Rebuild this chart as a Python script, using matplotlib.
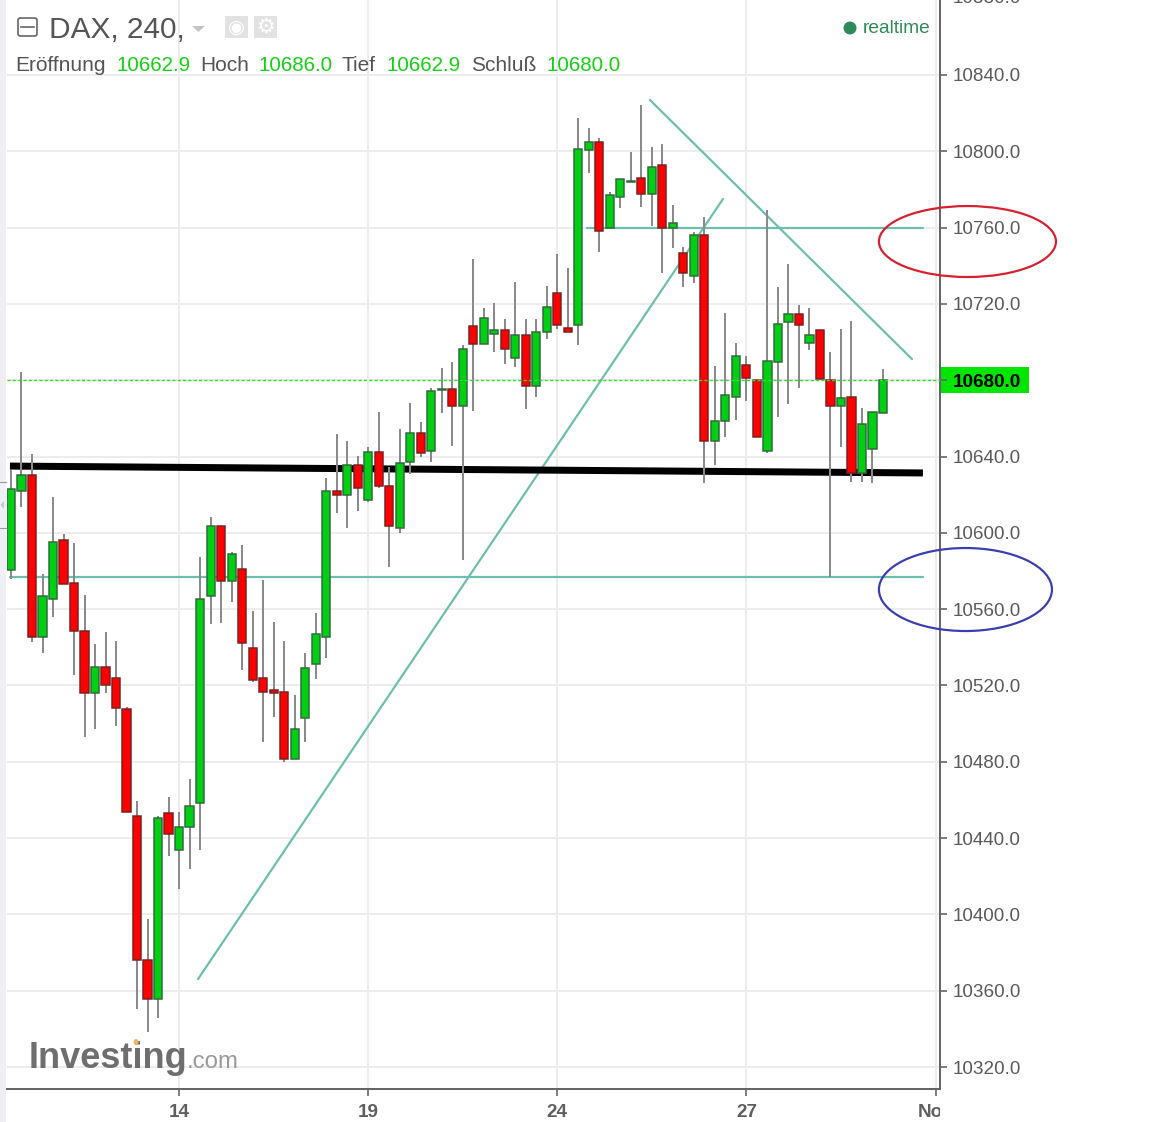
import matplotlib
matplotlib.use("Agg")
import matplotlib.pyplot as plt
from matplotlib.patches import Ellipse, Rectangle, FancyBboxPatch, Polygon
from matplotlib.transforms import Bbox

# ---- data (prices) ----
highs = [10632.9,10684.3,10641.3,10578.4,10618.8,10599.4,10594.7,10567.4,10541.7,10548.0,10543.3,10508.7,
         10459.4,10397.6,10451.6,10461.5,10453.6,10470.9,10587.3,10608.3,10603.6,10589.9,10593.6,10559.0,
         10575.3,10553.2,10543.3,10515.0,10537.0,10558.0,10628.7,10651.8,10648.1,10640.3,10645.0,10663.3,
         10634.5,10654.4,10668.0,10658.1,10675.9,10686.4,10689.5,10698.5,10743.5,10717.8,10720.5,10712.1,
         10731.5,10712.1,10712.1,10729.4,10746.2,10738.8,10817.4,10812.2,10807.0,10778.7,10785.5,10799.6,
         10824.3,10802.2,10803.8,10771.8,10749.8,10757.7,10765.5,10687.4,10715.2,10699.5,10692.7,10680.1,
         10769.2,10728.9,10740.9,10719.4,10717.8,10706.3,10694.8,10706.8,10711.0,10665.4,10663.3,10686.0]
lows = [10575.8,10613.5,10542.8,10537.0,10555.9,10573.2,10525.5,10493.0,10497.2,10516.0,10498.7,10453.6,
        10350.4,10338.3,10345.7,10430.6,10413.3,10423.8,10433.7,10552.2,10552.7,10563.7,10528.1,10521.8,
        10490.3,10503.4,10479.9,10481.4,10490.3,10523.4,10534.4,10610.4,10602.5,10611.4,10616.2,10623.5,
        10582.1,10599.9,10630.8,10639.7,10637.1,10662.8,10645.5,10585.7,10663.9,10699.0,10694.8,10688.5,
        10686.9,10664.9,10671.2,10701.6,10706.8,10705.3,10698.5,10788.6,10747.2,10759.8,10770.3,10783.9,
        10770.8,10760.8,10736.2,10749.3,10728.9,10731.0,10626.1,10635.5,10650.2,10659.1,10669.1,10650.2,
        10641.8,10660.7,10667.5,10675.9,10695.8,10680.6,10576.8,10645.0,10626.6,10626.6,10626.1,10662.9]
opens = [10580.5,10621.9,10630.3,10545.4,10565.3,10596.2,10573.7,10548.5,10516.0,10529.7,10523.9,10507.6,
         10451.6,10376.1,10355.6,10453.1,10433.7,10445.8,10458.4,10566.9,10603.6,10574.7,10581.0,10539.6,
         10523.9,10517.6,10516.6,10481.4,10502.9,10531.2,10545.4,10621.9,10619.8,10635.5,10617.2,10642.4,
         10624.5,10602.5,10637.1,10652.3,10642.9,10674.9,10675.4,10666.5,10708.4,10699.0,10704.2,10706.3,
         10691.6,10703.7,10677.0,10705.3,10725.7,10707.4,10708.9,10800.7,10804.9,10759.8,10776.0,10783.9,
         10786.0,10777.6,10792.8,10759.8,10746.7,10734.6,10756.1,10648.1,10658.6,10671.2,10688.0,10680.1,
         10642.9,10689.5,10710.5,10714.7,10699.5,10706.3,10680.1,10666.5,10671.2,10631.4,10643.9,10662.9]
closes = [10623.0,10630.3,10545.4,10566.9,10595.2,10573.2,10548.5,10516.0,10529.7,10520.2,10508.2,10453.6,
          10376.1,10355.6,10450.5,10442.1,10445.8,10456.8,10565.3,10603.6,10574.7,10588.9,10542.2,10522.8,
          10516.6,10516.0,10481.4,10497.2,10529.1,10547.0,10621.9,10619.8,10635.5,10623.5,10642.4,10624.5,
          10603.6,10636.6,10652.3,10641.8,10674.3,10675.4,10666.5,10696.4,10699.0,10712.6,10706.3,10696.4,
          10703.7,10677.0,10705.3,10718.4,10708.9,10705.3,10801.2,10804.9,10758.2,10777.1,10785.5,10784.4,
          10777.6,10791.8,10759.8,10762.4,10736.2,10756.1,10648.1,10658.6,10672.2,10692.7,10681.2,10650.2,
          10690.1,10709.5,10714.7,10708.9,10703.7,10680.6,10666.5,10670.7,10631.4,10657.0,10663.3,10680.0]

price_ticks = [10320,10360,10400,10440,10480,10520,10560,10600,10640,10680,10720,10760,10800,10840]
time_tick_pos = [16, 34, 52, 70, 88]
time_tick_labels = ["14", "19", "24", "27", "Nov"]
last_price = 10680.0

# drawings: (index, price) end points
up_trend = ([17.8, 67.77], [10366.1, 10775.0])
down_trend = ([60.82, 85.76], [10826.9, 10691.1])
resistance = ([54.83, 86.8], [10759.8, 10759.8])
support = ([-0.1, 86.8], [10576.9, 10576.9])
thick_line = ([-0.1, 86.8], [10635.0, 10631.4])
red_ellipse = (91.04, 10752.7, 16.85, 37.2)
blue_ellipse = (90.85, 10570.3, 16.47, 43.5)

header_pairs = [("Eröffnung", 15, "10662.9", 117), ("Hoch", 200, "10686.0", 259),
                ("Tief", 342, "10662.9", 387), ("Schluß", 471, "10680.0", 546)]

# ---- figure ----
W, H = 1164, 1122
plt.rcParams["font.family"] = ["Liberation Sans", "DejaVu Sans"]
fig = plt.figure(figsize=(W / 100, H / 100), dpi=100, facecolor="white")
L, R, B = 7, 939.5, 1089
ax = fig.add_axes([L / W, 1 - B / H, (R - L) / W, B / H])
px = 0.72
ax.set_xlim(-0.38, 88.38)
ax.set_ylim(10308.5, 10879.3)

def fx(x): return x / W
def fy(y): return 1 - y / H

# strip at the left edge
fig.patches.append(Rectangle((0, 0), fx(6), 1, transform=fig.transFigure, color="#eff0f5", lw=0))

for s in ["top", "left"]:
    ax.spines[s].set_visible(False)
for s in ["right", "bottom"]:
    ax.spines[s].set_color("#666666")
    ax.spines[s].set_linewidth(2 * px)

ax.yaxis.tick_right()
ax.set_yticks(price_ticks)
ax.set_yticklabels([f"{p:.1f}" for p in price_ticks], fontsize=13.6, color="#5a5a5a")
ax.set_xticks(time_tick_pos)
ax.set_xticklabels(time_tick_labels, fontsize=13.6, color="#5f5f5f", fontweight="bold")
ax.tick_params(axis="y", length=5, width=1.2, color="#666666", pad=4.7)
ax.tick_params(axis="x", length=5, width=1.2, color="#666666", pad=6)
for lab in ax.get_yticklabels():
    if lab.get_text() == f"{last_price:.1f}":
        lab.set_color("#000000")
        lab.set_fontweight("bold")
for lab in ax.get_xticklabels():
    lab.set_clip_on(True)
    lab.set_clip_box(Bbox([[0, 0], [R, H]]))
ax.grid(True, color="#ececec", lw=2 * px, zorder=0)
ax.set_axisbelow(True)

# drawings under the candles
teal = "#6cbfae"
for ln in (up_trend, down_trend, resistance, support):
    ax.plot(*ln, color=teal, lw=2.2 * px, zorder=2, solid_capstyle="round")
ax.plot(*thick_line, color="#000000", lw=7 * px, zorder=2.5, solid_capstyle="butt")

# candles
xs = list(range(len(opens)))
ax.vlines(xs, lows, highs, color="#8a8a8a", lw=2 * px, zorder=3)
for x, o, c in zip(xs, opens, closes):
    col = "#00cf14" if c >= o else "#ff0000"
    edge = "#2f6b3a" if c >= o else "#7a2020"
    ax.bar(x, max(abs(c - o), 0.4), width=0.78, bottom=min(o, c), color=col,
           edgecolor=edge, linewidth=1.5 * px, zorder=4)

ax.axhline(last_price, color="#2fe02f", lw=1.4 * px, ls=(0, (2.2, 1.6)), zorder=5)

for (cx, cy, w, h), col in ((red_ellipse, "#d8202f"), (blue_ellipse, "#3a3fb0")):
    ax.add_patch(Ellipse((cx, cy), w, h, fill=False, edgecolor=col, lw=2.2 * px,
                         clip_on=False, zorder=6))

# clipped label at the very top of the scale
ax.text(1 + 13.5 / (R - L), 10880, "10880.0", transform=ax.get_yaxis_transform(), clip_on=False,
        fontsize=13.6, color="#5a5a5a", va="center", ha="left")

# last price box, beneath the axes so the tick label stays on top of it
fig.patches.append(Rectangle((fx(941), fy(393)), 88 / W, 26 / H, transform=fig.transFigure,
                             color="#00e600", lw=0, zorder=-1))

# ---- header ----
fig.text(fx(49), fy(38), "DAX, 240,", fontsize=21.5, color="#555555")
fig.patches.append(FancyBboxPatch((fx(18), fy(36)), 19 / W, 18 / H, transform=fig.transFigure,
                                  boxstyle="round,pad=0,rounding_size=0.002", fill=False,
                                  edgecolor="#666666", lw=1.2))
fig.add_artist(plt.Line2D([fx(21), fx(34)], [fy(27), fy(27)], color="#666666", lw=1.2))
fig.patches.append(Polygon([(fx(192), fy(26)), (fx(205), fy(26)), (fx(198.5), fy(32))],
                           transform=fig.transFigure, color="#c4c4c4", lw=0))
for x0 in (225, 254):
    fig.patches.append(Rectangle((fx(x0), fy(38)), 23 / W, 22 / H, transform=fig.transFigure,
                                 color="#e2e2e2", lw=0))
fig.text(fx(236), fy(27), "◉", fontsize=14, color="white", ha="center", va="center",
         family="DejaVu Sans")
fig.text(fx(265.5), fy(27), "⚙", fontsize=15, color="white", ha="center", va="center",
         family="DejaVu Sans")

for name, nx, val, vx in header_pairs:
    fig.text(fx(nx), fy(71), name, fontsize=15, color="#555555")
    fig.text(fx(vx), fy(71), val, fontsize=14.8, color="#16d016")

fig.add_artist(Ellipse((fx(850), fy(28)), 13 / W, 13 / H, transform=fig.transFigure,
                       color="#2e8b57", lw=0))
fig.text(fx(863), fy(33), "realtime", fontsize=13.8, color="#2e8b57")

# ---- watermark ----
fig.text(fx(29), fy(1068), "Investing", fontsize=26, fontweight="bold", color="#6e6e6e", zorder=7)
fig.text(fx(187), fy(1068), ".com", fontsize=17.3, color="#9a9a9a", zorder=7)
fig.add_artist(Ellipse((fx(136), fy(1042)), 5 / W, 6 / H, transform=fig.transFigure,
                       color="#f5b45a", lw=0, zorder=8))

# marks in the left strip
for y in (482, 528):
    fig.add_artist(plt.Line2D([0, fx(6)], [fy(y), fy(y)], color="#9a9a9a", lw=0.8))
fig.patches.append(Polygon([(fx(0.5), fy(505)), (fx(4), fy(501)), (fx(4), fy(509))],
                           transform=fig.transFigure, color="#c8c8c8", lw=0))

fig.savefig("out.png", dpi=100)
